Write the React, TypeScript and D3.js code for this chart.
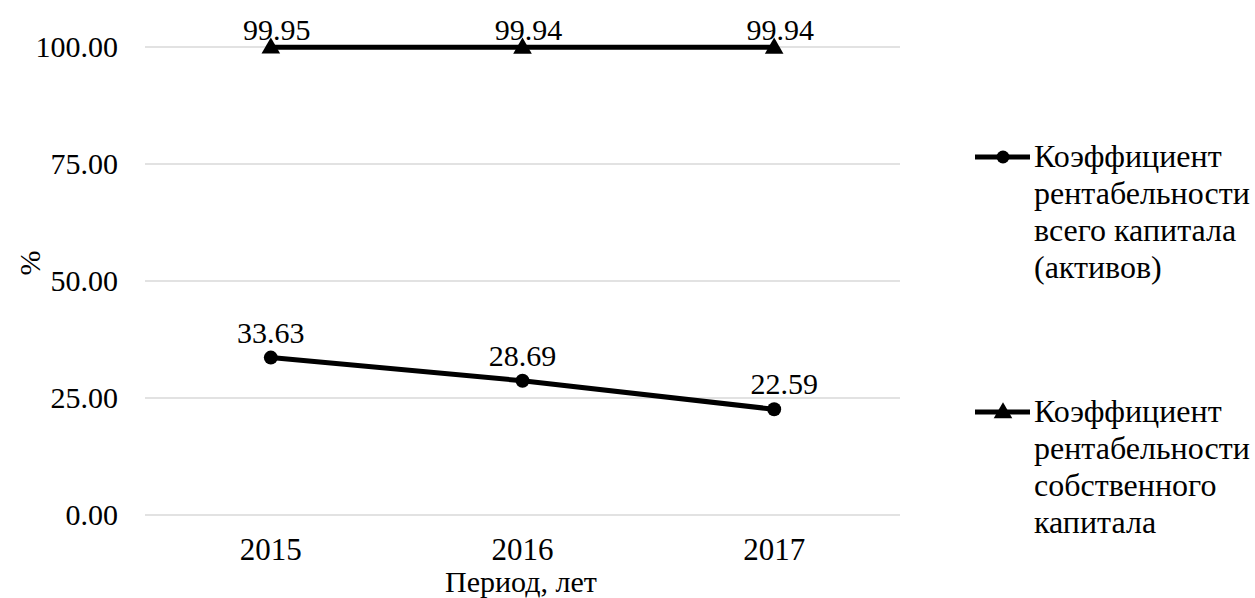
import React from "react";
import * as d3 from "d3";

const years = ["2015", "2016", "2017"];
const assetsReturn = [33.63, 28.69, 22.59];
const equityReturn = [99.95, 99.94, 99.94];
const yTicks = [0, 25, 50, 75, 100];
const legendAssets = ["Коэффициент", "рентабельности", "всего капитала", "(активов)"];
const legendEquity = ["Коэффициент", "рентабельности", "собственного", "капитала"];

const W = 1255;
const H = 598;
const FONT = "Liberation Serif, Times New Roman, serif";
const FS = 30;
const FS_LEGEND = 32;

export default function App() {
  const x = d3.scaleBand<string>().domain(years).range([145, 900]);
  const y = d3.scaleLinear().domain([0, 100]).range([515, 47]);
  const cx = (d: string) => (x(d) as number) + x.bandwidth() / 2;

  const line = d3
    .line<number>()
    .x((_, i) => cx(years[i]))
    .y((v) => y(v));

  const tri = d3.symbol().type(d3.symbolTriangle).size(150)() as string;

  const legendItem = (lines: string[], top: number, marker: "circle" | "triangle") => (
    <g>
      <line x1={975} x2={1030} y1={top} y2={top} stroke="#000" strokeWidth={5} />
      {marker === "circle" ? (
        <circle cx={1003} cy={top} r={6.5} fill="#000" />
      ) : (
        <path d={tri} transform={`translate(1003,${top + 1})`} fill="#000" />
      )}
      {lines.map((t, i) => (
        <text key={i} x={1034} y={top + 10 + i * 37} fontSize={FS_LEGEND}>
          {t}
        </text>
      ))}
    </g>
  );

  return (
    <svg
      width={W}
      height={H}
      fontFamily={FONT}
      fill="#000"
      style={{ position: "absolute", left: 0, top: 0, background: "#fff", fontFamily: FONT }}
    >
      {yTicks.map((t) => (
        <g key={t}>
          <line x1={145} x2={900} y1={y(t)} y2={y(t)} stroke="#d9d9d9" strokeWidth={1.5} />
          <text x={118} y={y(t) + 10} textAnchor="end" fontSize={FS}>
            {t.toFixed(2)}
          </text>
        </g>
      ))}
      {years.map((yr) => (
        <text key={yr} x={cx(yr)} y={560} textAnchor="middle" fontSize={31}>
          {yr}
        </text>
      ))}
      <text x={521} y={592} textAnchor="middle" fontSize={FS}>
        Период, лет
      </text>
      <text transform="translate(40,263) rotate(-90)" textAnchor="middle" fontSize={FS}>
        %
      </text>

      <path d={line(assetsReturn) as string} fill="none" stroke="#000" strokeWidth={5} strokeLinejoin="round" />
      <path d={line(equityReturn) as string} fill="none" stroke="#000" strokeWidth={5} strokeLinejoin="round" />

      {assetsReturn.map((v, i) => (
        <g key={`a${i}`}>
          <circle cx={cx(years[i])} cy={y(v)} r={7} />
          <text x={cx(years[i]) + (i === 2 ? 10 : 0)} y={y(v) - 15} textAnchor="middle" fontSize={FS}>
            {v.toFixed(2)}
          </text>
        </g>
      ))}
      {equityReturn.map((v, i) => (
        <g key={`e${i}`}>
          <path d={tri} transform={`translate(${cx(years[i])},${y(v) + 1})`} />
          <text x={cx(years[i]) + 6} y={y(v) - 7} textAnchor="middle" fontSize={FS}>
            {v.toFixed(2)}
          </text>
        </g>
      ))}

      {legendItem(legendAssets, 157, "circle")}
      {legendItem(legendEquity, 412, "triangle")}
    </svg>
  );
}
